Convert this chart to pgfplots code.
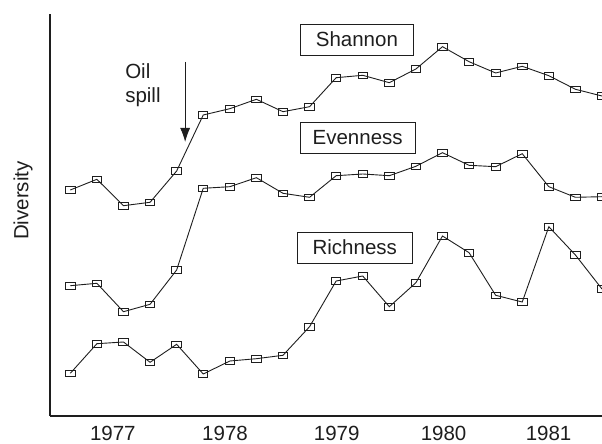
\documentclass[border=0pt]{standalone}
\usepackage{pgfplots}
\pgfplotsset{compat=1.18}
\usepackage{fontspec}
\setmainfont{Liberation Sans}
\usetikzlibrary{arrows.meta}
\definecolor{ink}{HTML}{1E1E1E}

\begin{document}
\fontsize{20.5}{24}\selectfont
\begin{tikzpicture}
\begin{axis}[
  scale only axis, width=552pt, height=402pt,
  at={(0,0)}, anchor=south west,
  xmin=-0.764, xmax=20, ymin=0, ymax=402,
  axis x line=bottom, axis y line=left,
  axis line style={-, ink, line width=1.1pt},
  xtick={1.6,5.82,10.02,14.04,17.99},
  xticklabels={1977,1978,1979,1980,1981},
  ytick=\empty, major tick length=0pt,
  /pgf/number format/assume math mode=true,
  xticklabel style={anchor=base, inner sep=0pt, yshift=-24.5pt, text=ink, font=\fontsize{20.5}{24}\selectfont},
  ylabel={Diversity},
  every axis y label/.style={at={(rel axis cs:-0.0489,0.5356)}, rotate=90, anchor=center, text=ink, font=\fontsize{20.5}{24}\selectfont},
  clip=true,
  ser/.style={ink, line width=0.9pt, mark=square, mark size=4.7pt, mark options={solid, yscale=0.7, line width=0.9pt}},
]
% Shannon
\addplot[ser] coordinates {
(0,226) (1,236.7) (2,210.3) (3,213.7) (4,245) (5,301) (6,307.3) (7,316.7) (8,304.3) (9,309.3)
(10,338.3) (11,340.7) (12,333.3) (13,347) (14,369.3) (15,354.3) (16,343) (17,349.7) (18,340.3) (19,326.7) (20,320)};
% Evenness
\addplot[ser] coordinates {
(0,130.3) (1,132.7) (2,104.3) (3,111.7) (4,146) (5,227.7) (6,229.3) (7,238.3) (8,222.7) (9,218.7)
(10,240.3) (11,242) (12,240.3) (13,249.7) (14,263.3) (15,250.7) (16,249.3) (17,262.3) (18,229.3) (19,218.7) (20,219.3)};
% Richness
\addplot[ser] coordinates {
(0,42.7) (1,72.3) (2,74) (3,53.7) (4,71.7) (5,42) (6,55) (7,57.3) (8,60.7) (9,89.3)
(10,135) (11,140) (12,109.3) (13,133.3) (14,180) (15,163.3) (16,120.7) (17,114) (18,189.3) (19,161) (20,127)};

\node[draw=ink, line width=0.9pt, minimum width=113pt, minimum height=31pt, inner sep=0pt, text=ink] at (axis cs:10.78,376.5) {Shannon};
\node[draw=ink, line width=0.9pt, minimum width=115pt, minimum height=31pt, inner sep=0pt, text=ink] at (axis cs:10.81,278.5) {Evenness};
\node[draw=ink, line width=0.9pt, minimum width=115pt, minimum height=31pt, inner sep=0pt, text=ink] at (axis cs:10.70,168.5) {Richness};
\node[anchor=base west, inner sep=0pt, text=ink] at (axis cs:2.06,337) {Oil};
\node[anchor=base west, inner sep=0pt, text=ink] at (axis cs:2.06,313) {spill};
\draw[-{Latex[length=14pt,width=10pt]}, line width=0.9pt, ink] (axis cs:4.32,354) -- (axis cs:4.32,274);
\end{axis}
\pgfresetboundingbox
\path (-50pt,-28pt) rectangle (552pt,416pt);
\end{tikzpicture}
\end{document}
